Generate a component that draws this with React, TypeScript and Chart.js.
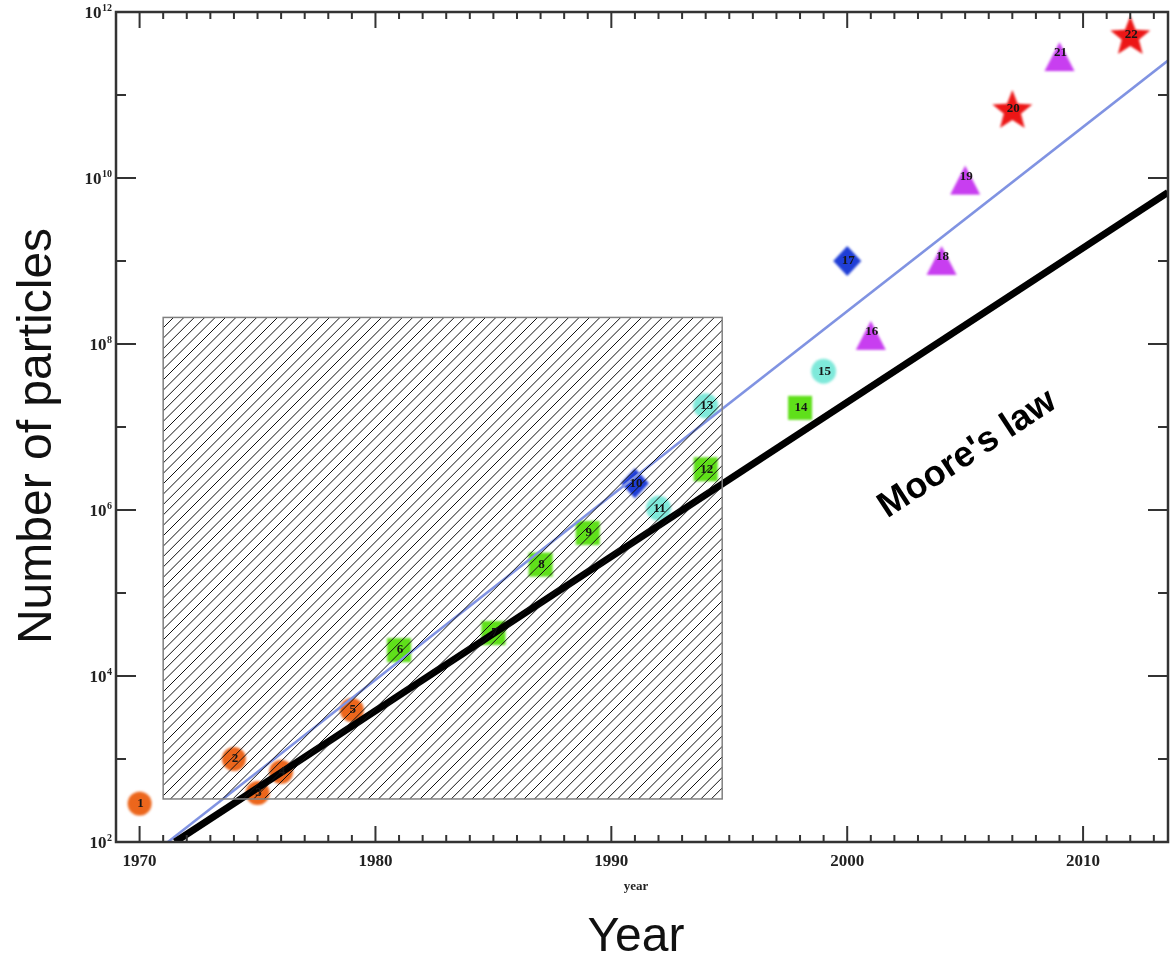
import React, { useEffect, useRef } from "react";
import { Chart, registerables } from "chart.js";

Chart.register(...registerables);

// ---- data ----
const pointYears = [1970, 1974, 1975, 1976, 1979, 1981, 1985, 1987, 1989, 1991, 1992, 1994, 1994, 1998, 1999, 2001, 2000, 2004, 2005, 2007, 2009, 2012];
const pointParticles = [290, 1000, 390, 700, 3900, 2.05e4, 3.3e4, 2.2e5, 5.3e5, 2.1e6, 1.05e6, 3.1e6, 1.8e7, 1.7e7, 4.7e7, 1.4e8, 1.0e9, 1.12e9, 1.04e10, 6.8e10, 3.2e11, 5.3e11];
const pointLabels = ["1", "2", "3", "4", "5", "6", "7", "8", "9", "10", "11", "12", "13", "14", "15", "16", "17", "18", "19", "20", "21", "22"];
const pointKinds = ["orange", "orange", "orange", "orange", "orange", "green", "green", "green", "green", "blue", "cyan", "green", "cyan", "green", "cyan", "violet", "blue", "violet", "violet", "star", "violet", "star"];

const mooreYears = [1971.5, 2013.6];
const mooreParticles = [100, 6.7e9];
const fitYears = [1971.2, 2013.6];
const fitParticles = [100, 2.6e11];

const hatchYears = [1971.0, 1994.7];
const hatchParticles = [330, 2.09e8];

const mooreLabel = "Moore's law";
const mooreLabelYear = 2005.1;
const mooreLabelParticles = 4.7e6;

const xMin = 1969;
const xMax = 2013.6;
const yMin = 1e2;
const yMax = 1e12;
const xMajorTicks = [1970, 1980, 1990, 2000, 2010];
const xTickLabels = ["1970", "1980", "1990", "2000", "2010"];
const yMajorExponents = [2, 4, 6, 8, 10, 12];
const yMinorExponents = [3, 5, 7, 9, 11];
const xInnerTitle = "year";
const xTitle = "Year";
const yTitle = "Number of particles";

// ---- marker images ----
function makeMarker(kind: string): HTMLCanvasElement {
  const c = document.createElement("canvas");
  let w = 34, h = 34;
  if (kind === "violet") { w = 36; h = 56; }
  if (kind === "star") { w = 48; h = 48; }
  c.width = w; c.height = h;
  const ctx = c.getContext("2d") as CanvasRenderingContext2D;
  (ctx as any).filter = "blur(0.8px)";
  const cx = w / 2, cy = h / 2;
  ctx.beginPath();
  if (kind === "orange") {
    ctx.fillStyle = "#ec661c";
    ctx.arc(cx, cy, 12, 0, Math.PI * 2);
  } else if (kind === "cyan") {
    ctx.fillStyle = "#7fe9da";
    ctx.arc(cx, cy, 12.5, 0, Math.PI * 2);
  } else if (kind === "green") {
    ctx.fillStyle = "#5fe01a";
    ctx.rect(cx - 12, cy - 12, 24, 24);
  } else if (kind === "blue") {
    ctx.fillStyle = "#1f3ed6";
    ctx.moveTo(cx, cy - 15);
    ctx.lineTo(cx + 14, cy);
    ctx.lineTo(cx, cy + 15);
    ctx.lineTo(cx - 14, cy);
    ctx.closePath();
  } else if (kind === "violet") {
    ctx.fillStyle = "#c83ef0";
    ctx.moveTo(cx, cy - 11);
    ctx.lineTo(cx + 15, cy + 18);
    ctx.lineTo(cx - 15, cy + 18);
    ctx.closePath();
  } else if (kind === "star") {
    ctx.fillStyle = "#ec1616";
    const R = 21, r = 9;
    for (let i = 0; i < 10; i++) {
      const ang = -Math.PI / 2 + (i * Math.PI) / 5;
      const rad = i % 2 === 0 ? R : r;
      const px = cx + rad * Math.cos(ang);
      const py = cy + 2 + rad * Math.sin(ang);
      if (i === 0) ctx.moveTo(px, py); else ctx.lineTo(px, py);
    }
    ctx.closePath();
  }
  ctx.fill();
  return c;
}

const decorPlugin = {
  id: "decor",
  afterDatasetsDraw(chart: any) {
    const { ctx, chartArea: a } = chart;
    const xs = chart.scales.x;
    const ys = chart.scales.y;
    ctx.save();

    // point labels
    ctx.font = "bold 13px 'Liberation Serif'";
    ctx.textAlign = "center";
    ctx.textBaseline = "middle";
    ctx.fillStyle = "#161616";
    const meta = chart.getDatasetMeta(2);
    meta.data.forEach((pt: any, i: number) => {
      ctx.fillText(pointLabels[i], pt.x + 1, pt.y);
    });

    // hatched box
    const hx0 = xs.getPixelForValue(hatchYears[0]);
    const hx1 = xs.getPixelForValue(hatchYears[1]);
    const hyB = ys.getPixelForValue(hatchParticles[0]);
    const hyT = ys.getPixelForValue(hatchParticles[1]);
    const H = hyB - hyT;
    ctx.save();
    ctx.beginPath();
    ctx.rect(hx0, hyT, hx1 - hx0, H);
    ctx.clip();
    ctx.strokeStyle = "#111";
    ctx.lineWidth = 1;
    ctx.beginPath();
    for (let s = hx0 - H; s < hx1 + 2; s += 10.4) {
      ctx.moveTo(s, hyB);
      ctx.lineTo(s + H, hyT);
    }
    ctx.stroke();
    ctx.restore();
    ctx.strokeStyle = "#808080";
    ctx.lineWidth = 1.5;
    ctx.strokeRect(hx0, hyT, hx1 - hx0, H);

    // Moore's law label
    const mx0 = xs.getPixelForValue(mooreYears[0]);
    const mx1 = xs.getPixelForValue(mooreYears[1]);
    const my0 = ys.getPixelForValue(mooreParticles[0]);
    const my1 = ys.getPixelForValue(mooreParticles[1]);
    const ang = Math.atan2(my1 - my0, mx1 - mx0);
    ctx.save();
    ctx.translate(xs.getPixelForValue(mooreLabelYear), ys.getPixelForValue(mooreLabelParticles));
    ctx.rotate(ang);
    ctx.font = "bold 36px 'Liberation Sans'";
    ctx.fillStyle = "#000";
    ctx.textAlign = "center";
    ctx.textBaseline = "middle";
    ctx.fillText(mooreLabel, 0, 0);
    ctx.restore();

    // frame
    ctx.strokeStyle = "#333";
    ctx.lineWidth = 2.5;
    ctx.strokeRect(a.left, a.top, a.right - a.left, a.bottom - a.top);

    // x ticks
    ctx.lineWidth = 2;
    ctx.beginPath();
    for (let yr = Math.ceil(xMin); yr <= xMax; yr++) {
      if (yr <= xMin) continue;
      const px = xs.getPixelForValue(yr);
      const len = xMajorTicks.includes(yr) ? 16 : 7;
      ctx.moveTo(px, a.bottom);
      ctx.lineTo(px, a.bottom - len);
      ctx.moveTo(px, a.top);
      ctx.lineTo(px, a.top + len);
    }
    // y ticks
    const yTick = (e: number, len: number) => {
      const py = ys.getPixelForValue(Math.pow(10, e));
      ctx.moveTo(a.left, py);
      ctx.lineTo(a.left + len, py);
      ctx.moveTo(a.right, py);
      ctx.lineTo(a.right - len, py);
    };
    yMajorExponents.forEach((e) => { if (e > 2 && e < 12) yTick(e, 20); });
    yMinorExponents.forEach((e) => yTick(e, 10));
    ctx.stroke();
    ctx.restore();
  },
  afterDraw(chart: any) {
    const { ctx, chartArea: a } = chart;
    const xs = chart.scales.x;
    const ys = chart.scales.y;
    ctx.save();
    ctx.fillStyle = "#222";
    // x tick labels
    ctx.font = "bold 17px 'Liberation Serif'";
    ctx.textAlign = "center";
    ctx.textBaseline = "middle";
    xMajorTicks.forEach((v, i) => {
      ctx.fillText(xTickLabels[i], xs.getPixelForValue(v), a.bottom + 20);
    });
    // y tick labels: 10^e
    yMajorExponents.forEach((e) => {
      const py = ys.getPixelForValue(Math.pow(10, e));
      const sup = String(e);
      ctx.font = "bold 10px 'Liberation Serif'";
      const sw = ctx.measureText(sup).width;
      ctx.textAlign = "right";
      ctx.textBaseline = "alphabetic";
      const right = a.left - 4;
      ctx.fillText(sup, right, py - 1);
      ctx.font = "bold 17px 'Liberation Serif'";
      ctx.fillText("10", right - sw - 0.5, py + 6);
    });
    // inner axis title
    ctx.font = "bold 13px 'Liberation Serif'";
    ctx.textAlign = "center";
    ctx.textBaseline = "middle";
    ctx.fillText(xInnerTitle, (a.left + a.right) / 2 - 6, a.bottom + 45);

    // outer titles
    ctx.fillStyle = "#111";
    ctx.font = "48px 'Liberation Sans'";
    ctx.textAlign = "center";
    ctx.textBaseline = "alphabetic";
    ctx.fillText(xTitle, (a.left + a.right) / 2 - 6, a.bottom + 109);
    ctx.save();
    ctx.translate(51, 436);
    ctx.rotate(-Math.PI / 2);
    ctx.fillText(yTitle, 0, 0);
    ctx.restore();
    ctx.restore();
  },
};

export default function App() {
  const ref = useRef<HTMLCanvasElement | null>(null);
  useEffect(() => {
    if (!ref.current) return;
    const markers: Record<string, HTMLCanvasElement> = {};
    ["orange", "green", "blue", "cyan", "violet", "star"].forEach((k) => { markers[k] = makeMarker(k); });
    const chart = new Chart(ref.current, {
      type: "scatter",
      data: {
        datasets: [
          {
            type: "line",
            data: mooreYears.map((x, i) => ({ x, y: mooreParticles[i] })),
            borderColor: "#000",
            borderWidth: 7,
            pointRadius: 0,
            fill: false,
          } as any,
          {
            type: "line",
            data: fitYears.map((x, i) => ({ x, y: fitParticles[i] })),
            borderColor: "#8093e2",
            borderWidth: 2.5,
            pointRadius: 0,
            fill: false,
          } as any,
          {
            type: "scatter",
            data: pointYears.map((x, i) => ({ x, y: pointParticles[i] })),
            pointStyle: pointKinds.map((k) => markers[k]),
            pointRadius: 12,
            clip: false,
          } as any,
        ],
      },
      options: {
        animation: false,
        responsive: false,
        events: [],
        layout: { autoPadding: false, padding: { left: 116, top: 12, right: 2, bottom: 114 } },
        plugins: { legend: { display: false }, tooltip: { enabled: false }, title: { display: false } },
        scales: {
          x: { type: "linear", min: xMin, max: xMax, display: false },
          y: { type: "logarithmic", min: yMin, max: yMax, display: false },
        },
      } as any,
      plugins: [decorPlugin],
    });
    return () => chart.destroy();
  }, []);
  return (
    <div style={{ position: "absolute", left: 0, top: 0, width: 1170, height: 956, background: "#fff" }}>
      <canvas ref={ref} width={1170} height={956} />
    </div>
  );
}
